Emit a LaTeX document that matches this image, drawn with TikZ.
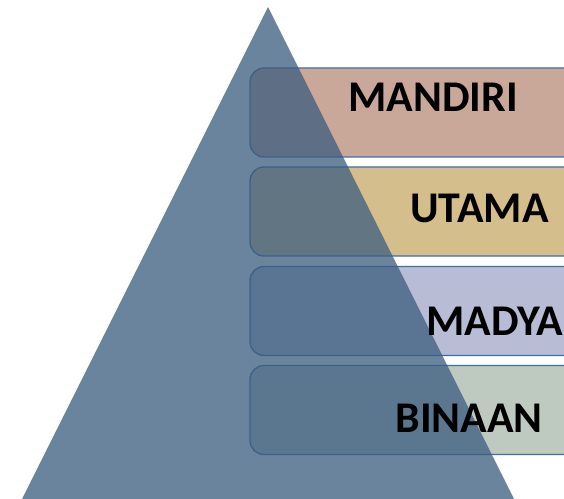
\documentclass[tikz,border=0pt]{standalone}
\usepackage{fontspec}
\newfontfamily\labelfont{Carlito}
\begin{document}
\begin{tikzpicture}[x=1bp,y=-1bp,
  levelbox/.style={draw=boxedge, line width=1.4bp, rounded corners=14bp,
    minimum width=370bp, minimum height=89bp, inner sep=0pt},
  leveltext/.style={font=\labelfont\bfseries\fontsize{44}{44}\selectfont, text=black, inner sep=0pt, anchor=base}]
\definecolor{boxedge}{HTML}{3F6FA8}
\definecolor{cmandiri}{HTML}{C9A899}
\definecolor{cutama}{HTML}{D4BF8C}
\definecolor{cmadya}{HTML}{B8BCD4}
\definecolor{cbinaan}{HTML}{BEC9BF}
\definecolor{pyr}{HTML}{3D5E80}
\clip (0,0) rectangle (564,499);
\fill[white] (0,0) rectangle (564,499);
\node[levelbox, fill=cmandiri] (bm) at (435,112.5) {};
\node[levelbox, fill=cutama] (bu) at (435,211.5) {};
\node[levelbox, fill=cmadya] (bd) at (435,311) {};
\node[levelbox, fill=cbinaan] (bb) at (435,410) {};
\coordinate (apex) at (268,7);
\coordinate (bl) at (22,499);
\coordinate (br) at (514,499);
\fill[pyr, opacity=0.76] (apex) -- (br) -- (bl) -- cycle;
\node[leveltext] (tm) at (433,112) {MANDIRI};
\node[leveltext] (tu) at (479.5,223) {UTAMA};
\node[leveltext] (td) at (495,335) {MADYA};
\node[leveltext] (tb) at (469,432) {BINAAN};
\end{tikzpicture}
\end{document}
